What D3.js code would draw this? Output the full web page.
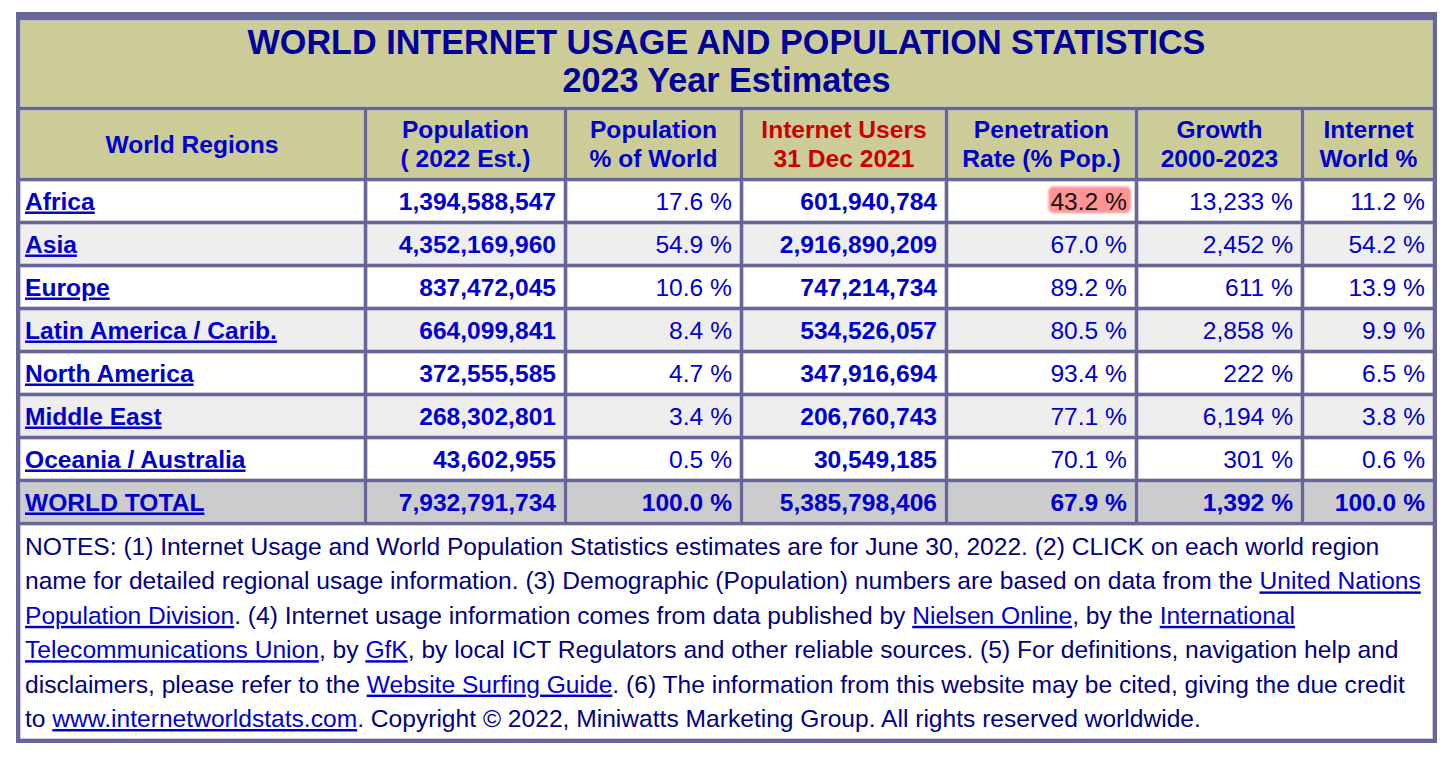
<!DOCTYPE html>
<html>
<head>
<meta charset="utf-8">
<script src="https://cdn.jsdelivr.net/npm/d3@7"></script>
<style>
  html, body { margin: 0; padding: 0; background: #fff; }
  svg text { font-family: "Liberation Sans", Arial, Helvetica, sans-serif; }
  .link { text-decoration: underline; }
</style>
</head>
<body>
<div id="chart"></div>
<script>
// Data
var titleLines = ["WORLD INTERNET USAGE AND POPULATION STATISTICS", "2023 Year Estimates"];

var columns = ["region", "population", "popPct", "users", "penetration", "growth", "usersPct"];
var headers = [
  ["World Regions"],
  ["Population", "( 2022 Est.)"],
  ["Population", "% of World"],
  ["Internet Users", "31 Dec 2021"],
  ["Penetration", "Rate (% Pop.)"],
  ["Growth", "2000-2023"],
  ["Internet", "World %"]
];

var regions = ["Africa", "Asia", "Europe", "Latin America / Carib.", "North America", "Middle East", "Oceania / Australia"];
var population = [1394588547, 4352169960, 837472045, 664099841, 372555585, 268302801, 43602955];
var popPct = [17.6, 54.9, 10.6, 8.4, 4.7, 3.4, 0.5];
var users = [601940784, 2916890209, 747214734, 534526057, 347916694, 206760743, 30549185];
var penetration = [43.2, 67.0, 89.2, 80.5, 93.4, 77.1, 70.1];
var growth = [13233, 2452, 611, 2858, 222, 6194, 301];
var usersPct = [11.2, 54.2, 13.9, 9.9, 6.5, 3.8, 0.6];

var totalLabel = "WORLD TOTAL";
var totals = [7932791734, 100.0, 5385798406, 67.9, 1392, 100.0];

var highlighted = { region: "Africa", column: "penetration" };

// notes, one entry per printed line; {..} marks a link
var notes = [
  "NOTES: (1) Internet Usage and World Population Statistics estimates are for June 30, 2022. (2) CLICK on each world region",
  "name for detailed regional usage information. (3) Demographic (Population) numbers are based on data from the {United Nations}",
  "{Population Division}. (4) Internet usage information comes from data published by {Nielsen Online}, by the {International}",
  "{Telecommunications Union}, by {GfK}, by local ICT Regulators and other reliable sources. (5) For definitions, navigation help and",
  "disclaimers, please refer to the {Website Surfing Guide}. (6) The information from this website may be cited, giving the due credit",
  "to {www.internetworldstats.com}. Copyright \u00A9 2022, Miniwatts Marketing Group. All rights reserved worldwide."
];

// Layout
var W = 1456, H = 760;
var colEdges = [[20, 364], [367, 564], [567, 740], [743, 945], [948, 1135], [1138, 1301], [1304, 1433]];
var tableBox = { x0: 16, y0: 12, x1: 1437, y1: 743 };
var titleBox = [16, 107];
var headerBox = [110, 178];
var notesBox = [525, 739];
var fs = 24.6;

var C = {
  border: "#666699",
  head: "#cccc99",
  alt: "#eeeeee",
  total: "#cccccc",
  blue: "#0000cc",
  title: "#000099",
  red: "#cc0000",
  navy: "#000080",
  mark: "#ff9494"
};

var fmtInt = d3.format(",");
var fmtPct = function(v) { return d3.format(".1f")(v) + " %"; };
var fmtGrowth = function(v) { return d3.format(",")(v) + " %"; };

// Build rows
var rows = regions.map(function(r, i) {
  return {
    name: r, total: false,
    cells: [r, fmtInt(population[i]), fmtPct(popPct[i]), fmtInt(users[i]),
            fmtPct(penetration[i]), fmtGrowth(growth[i]), fmtPct(usersPct[i])]
  };
});
rows.push({
  name: totalLabel, total: true,
  cells: [totalLabel, fmtInt(totals[0]), fmtPct(totals[1]), fmtInt(totals[2]),
          fmtPct(totals[3]), fmtGrowth(totals[4]), fmtPct(totals[5])]
});

// Scales
var x = d3.scaleOrdinal().domain(columns).range(colEdges);
var y = d3.scaleBand()
  .domain(rows.map(function(d) { return d.name; }))
  .range([179.5, 523.5])
  .paddingInner(3 / 43)
  .paddingOuter(1.5 / 43);

var svg = d3.select("#chart").append("svg")
  .attr("width", W)
  .attr("height", H);

var defs = svg.append("defs");
defs.append("filter").attr("id", "soft")
  .attr("x", "-20%").attr("y", "-40%").attr("width", "140%").attr("height", "180%")
  .append("feGaussianBlur").attr("stdDeviation", 0.8);

// Outer frame
svg.append("rect")
  .attr("x", tableBox.x0)
  .attr("y", tableBox.y0)
  .attr("width", tableBox.x1 - tableBox.x0)
  .attr("height", tableBox.y1 - tableBox.y0)
  .style("fill", C.border);

function cellRect(g, x0, x1, y0, y1, fill) {
  g.append("rect")
    .attr("x", x0 + 0.5)
    .attr("y", y0 + 0.5)
    .attr("width", x1 - x0 - 1)
    .attr("height", y1 - y0 - 1)
    .style("fill", fill)
    .style("stroke", "#ffffff")
    .style("stroke-opacity", 0.35)
    .style("stroke-width", 1);
}

// Title
var gTitle = svg.append("g").attr("class", "title");
cellRect(gTitle, colEdges[0][0], colEdges[6][1], titleBox[0] + 4, titleBox[1], C.head);
gTitle.selectAll("text")
  .data(titleLines)
  .enter().append("text")
  .attr("x", (colEdges[0][0] + colEdges[6][1]) / 2)
  .attr("y", function(d, i) { return 53.5 + i * 38; })
  .style("text-anchor", "middle")
  .style("font-size", "34.2px")
  .style("font-weight", "bold")
  .style("fill", C.title)
  .text(function(d) { return d; });

// Header row
var gHead = svg.append("g").attr("class", "header");
columns.forEach(function(c, i) {
  var e = x(c);
  cellRect(gHead, e[0], e[1], headerBox[0], headerBox[1], C.head);
  var lines = headers[i];
  var mid = (headerBox[0] + headerBox[1]) / 2;
  var t = gHead.append("text")
    .attr("x", (e[0] + e[1]) / 2)
    .style("text-anchor", "middle")
    .style("font-size", fs + "px")
    .style("font-weight", "bold")
    .style("fill", c === "users" ? C.red : C.blue);
  lines.forEach(function(l, j) {
    t.append("tspan")
      .attr("x", (e[0] + e[1]) / 2)
      .attr("y", mid + 8.5 + (j - (lines.length - 1) / 2) * 29)
      .text(l);
  });
});

// Body rows
var gBody = svg.append("g").attr("class", "body");
var rowG = gBody.selectAll("g.row")
  .data(rows)
  .enter().append("g")
  .attr("class", "row");

rowG.each(function(d, i) {
  var g = d3.select(this);
  var y0 = y(d.name), y1 = y0 + y.bandwidth();
  var fill = d.total ? C.total : (i % 2 ? C.alt : "#ffffff");
  columns.forEach(function(c, j) {
    var e = x(c);
    cellRect(g, e[0], e[1], y0, y1, fill);
    var bold = d.total || j === 0 || c === "population" || c === "users";
    var t = g.append("text")
      .attr("class", j === 0 ? "link cell" : "cell")
      .attr("x", j === 0 ? e[0] + 5 : e[1] - 8)
      .attr("y", (y0 + y1) / 2 + 8.5)
      .style("text-anchor", j === 0 ? "start" : "end")
      .style("font-size", fs + "px")
      .style("font-weight", bold ? "bold" : "normal")
      .style("fill", C.blue)
      .text(d.cells[j]);

    // Highlight mark
    if (d.name === highlighted.region && c === highlighted.column) {
      var b = t.node().getBBox();
      g.insert("rect", function() { return t.node(); })
        .attr("x", b.x - 2)
        .attr("y", b.y - 1)
        .attr("width", b.width + 6)
        .attr("height", b.height - 0.5)
        .attr("rx", 5)
        .style("fill", C.mark)
        .attr("filter", "url(#soft)");
      t.style("fill", "#111111");
    }
  });
});

// Notes
var gNotes = svg.append("g").attr("class", "notes");
cellRect(gNotes, colEdges[0][0], colEdges[6][1], notesBox[0], notesBox[1], "#ffffff");

var noteText = gNotes.append("text")
  .style("font-size", fs + "px")
  .style("fill", C.navy);

notes.forEach(function(line, i) {
  var parts = line.split(/(\{[^}]*\})/).filter(function(p) { return p.length > 0; });
  parts.forEach(function(p, k) {
    var isLink = p.charAt(0) === "{";
    var ts = noteText.append("tspan")
      .text(isLink ? p.slice(1, -1) : p)
      .style("fill", isLink ? C.blue : C.navy);
    if (isLink) ts.attr("class", "link");
    if (k === 0) ts.attr("x", 25).attr("y", 555 + i * 34.4);
  });
});
</script>
</body>
</html>
